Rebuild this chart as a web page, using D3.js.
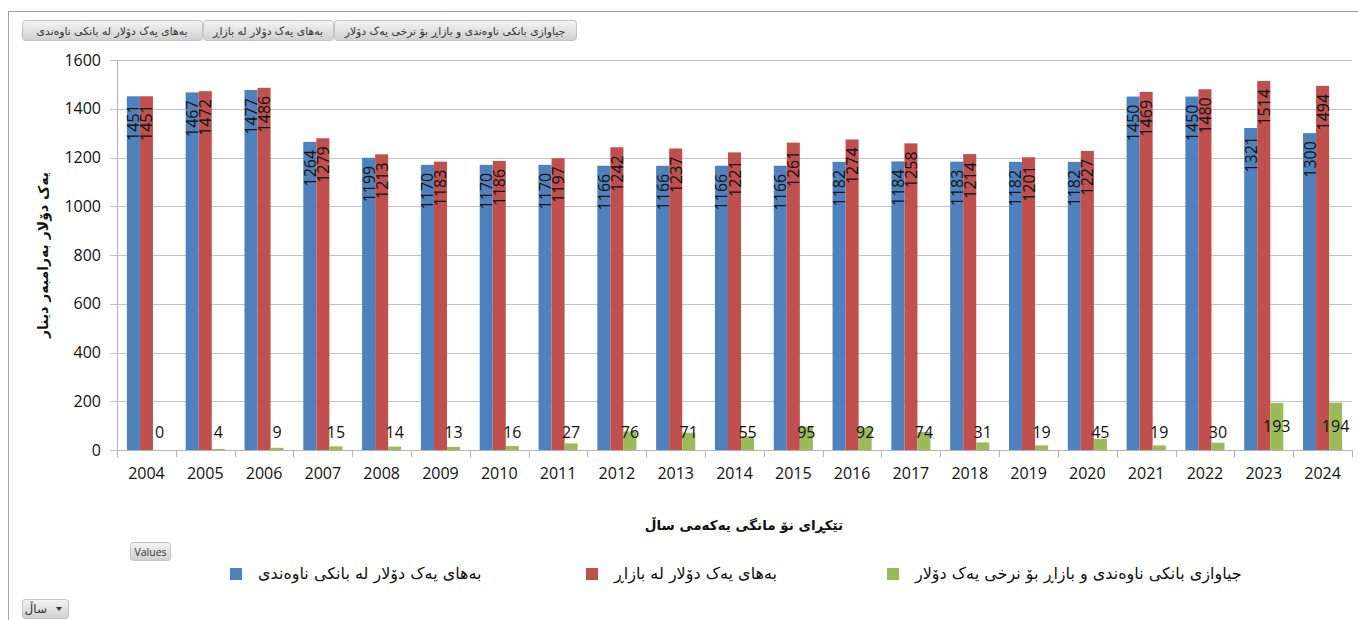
<!DOCTYPE html>
<html>
<head>
<meta charset="utf-8">
<script src="https://cdn.jsdelivr.net/npm/d3@7"></script>
<style>
  body { margin: 0; background: #fff; }
  svg { display: block; }
</style>
</head>
<body>
<svg width="1358" height="620"></svg>
<script>
const years = ["2004","2005","2006","2007","2008","2009","2010","2011","2012","2013","2014",
               "2015","2016","2017","2018","2019","2020","2021","2022","2023","2024"];
const bankRate = [1451,1467,1477,1264,1199,1170,1170,1170,1166,1166,1166,1166,1182,1184,1183,1182,1182,1450,1450,1321,1300];
const marketRate = [1451,1472,1486,1279,1213,1183,1186,1197,1242,1237,1221,1261,1274,1258,1214,1201,1227,1469,1480,1514,1494];
const difference = [0,4,9,15,14,13,16,27,76,71,55,95,92,74,31,19,45,19,30,193,194];
const seriesNames = ["بەهای یەک دۆلار لە بانکی ناوەندی", "بەهای یەک دۆلار لە بازاڕ", "جیاوازی بانکی ناوەندی و بازاڕ بۆ نرخی یەک دۆلار"];
const yTicks = [0,200,400,600,800,1000,1200,1400,1600];
const yTitle = "یەک دۆلار بەرامبەر دینار";
const xTitle = "تێکڕای نۆ مانگی یەکەمی ساڵ";

const colors = ["#4f81bd", "#c0504d", "#9bbb59"];
const arabicFont = "'DejaVu Sans', sans-serif";
const numFont = "'Open Sans', sans-serif";

const svg = d3.select("svg");
const margin = { top: 60, left: 117, right: 6, bottom: 170 };
const width = 1358 - margin.left - margin.right;
const height = 620 - margin.top - margin.bottom;

// frame
svg.append("rect")
  .attr("x", 8.5).attr("y", 11.5).attr("width", 1360).attr("height", 620)
  .attr("fill", "none").attr("stroke", "#a0a0a0");

const defs = svg.append("defs");
const grad = defs.append("linearGradient").attr("id", "btn").attr("x1", 0).attr("y1", 0).attr("x2", 0).attr("y2", 1);
grad.append("stop").attr("offset", "0%").attr("stop-color", "#f4f4f4");
grad.append("stop").attr("offset", "100%").attr("stop-color", "#cfcfcf");

// field buttons
const buttons = [
  { text: seriesNames[0], x: 22, w: 180 },
  { text: seriesNames[1], x: 203, w: 130 },
  { text: seriesNames[2], x: 334, w: 242 }
];
const btn = svg.append("g").selectAll("g").data(buttons).join("g")
  .attr("transform", d => `translate(${d.x},20)`);
btn.append("rect").attr("x", 0.5).attr("y", 0.5).attr("width", d => d.w).attr("height", 20)
  .attr("rx", 3).attr("fill", "url(#btn)").attr("stroke", "#c4c4c4");
btn.append("text").attr("x", d => d.w / 2).attr("y", 11).attr("text-anchor", "middle")
  .attr("dominant-baseline", "central").attr("font-family", arabicFont).attr("font-size", 10.8)
  .attr("fill", "#333").text(d => d.text);

const chart = svg.append("g").attr("transform", `translate(${margin.left},${margin.top})`);

const x0 = d3.scaleBand().domain(years).range([0, width]).paddingInner(0.335).paddingOuter(0.168);
const x1 = d3.scaleBand().domain([0, 1, 2]).range([0, x0.bandwidth()]);
const y = d3.scaleLinear().domain([0, 1600]).range([height, 0]);
const step = x0.step();

// gridlines
chart.append("g").selectAll("line").data(yTicks).join("line")
  .attr("x1", -7).attr("x2", width).attr("y1", d => Math.round(y(d)) + 0.5).attr("y2", d => Math.round(y(d)) + 0.5)
  .attr("stroke", "#c3c3c3");

// y axis
const yAxis = chart.append("g")
  .call(d3.axisLeft(y).tickValues(yTicks).tickFormat(d3.format("d")).tickSize(0).tickPadding(16));
yAxis.select(".domain").remove();
yAxis.selectAll("text").attr("font-family", numFont).attr("font-size", 16).attr("fill", "#111");
chart.append("line").attr("x1", 0.5).attr("x2", 0.5).attr("y1", 0).attr("y2", height).attr("stroke", "#b5b5b5");

// x axis
const xAxis = chart.append("g").attr("transform", `translate(0,${height})`)
  .call(d3.axisBottom(x0).tickSize(0).tickPadding(18));
xAxis.select(".domain").attr("stroke", "#b5b5b5");
xAxis.selectAll("text").attr("font-family", numFont).attr("font-size", 16).attr("fill", "#111");
chart.append("g").selectAll("line").data(d3.range(years.length + 1)).join("line")
  .attr("x1", d => Math.round(d * step) + 0.5).attr("x2", d => Math.round(d * step) + 0.5)
  .attr("y1", height).attr("y2", height + 7).attr("stroke", "#b5b5b5");

// bars
const rows = years.map((yr, i) => ({ year: yr, vals: [bankRate[i], marketRate[i], difference[i]] }));
const groups = chart.append("g").selectAll("g").data(rows).join("g")
  .attr("transform", d => `translate(${x0(d.year)},0)`);

groups.selectAll("rect").data(d => d.vals.map((v, k) => ({ v, k }))).join("rect")
  .attr("x", d => x1(d.k)).attr("width", x1.bandwidth())
  .attr("y", d => y(d.v)).attr("height", d => height - y(d.v))
  .attr("fill", d => colors[d.k]);

// rotated labels for the two rate series
groups.selectAll("text.rot").data(d => d.vals.slice(0, 2).map((v, k) => ({ v, k }))).join("text")
  .attr("class", "rot")
  .attr("transform", d => `translate(${x1(d.k) + x1.bandwidth() / 2},${y(d.v) + 8}) rotate(-90)`)
  .attr("text-anchor", "end").attr("dominant-baseline", "central")
  .attr("font-family", numFont).attr("font-size", 16).attr("fill", "#111")
  .text(d => d.v);

// labels for difference series
groups.append("text")
  .attr("x", x1(2) + x1.bandwidth() / 2)
  .attr("y", d => Math.min((y(d.vals[2]) + height) / 2, height - 18))
  .attr("text-anchor", "middle").attr("dominant-baseline", "central")
  .attr("font-family", numFont).attr("font-size", 16).attr("fill", "#111")
  .text(d => d.vals[2]);

// axis titles
svg.append("text")
  .attr("transform", `translate(43,${margin.top + height / 2}) rotate(-90)`)
  .attr("text-anchor", "middle").attr("dominant-baseline", "central")
  .attr("font-family", arabicFont).attr("font-weight", "bold").attr("font-size", 14)
  .attr("fill", "#111").text(yTitle);

svg.append("text")
  .attr("x", 744).attr("y", 525)
  .attr("text-anchor", "middle").attr("dominant-baseline", "central")
  .attr("font-family", arabicFont).attr("font-weight", "bold").attr("font-size", 13.5)
  .attr("fill", "#111").text(xTitle);

// Values button
const vb = svg.append("g").attr("transform", "translate(130,542)");
vb.append("rect").attr("x", 0.5).attr("y", 0.5).attr("width", 40).attr("height", 18).attr("rx", 3)
  .attr("fill", "url(#btn)").attr("stroke", "#c4c4c4");
vb.append("text").attr("x", 20.5).attr("y", 10).attr("text-anchor", "middle").attr("dominant-baseline", "central")
  .attr("font-family", numFont).attr("font-size", 10.5).attr("fill", "#333").text("Values");

// legend
const legendX = [230, 586, 887];
const legend = svg.append("g").selectAll("g").data(seriesNames).join("g")
  .attr("transform", (d, i) => `translate(${legendX[i]},568)`);
legend.append("rect").attr("width", 12).attr("height", 12).attr("fill", (d, i) => colors[i]);
legend.append("text").attr("x", 28).attr("y", 5)
  .attr("dominant-baseline", "central").attr("direction", "ltr")
  .attr("font-family", arabicFont).attr("font-size", 16).attr("fill", "#111")
  .text(d => d);

// year dropdown
const dd = svg.append("g").attr("transform", "translate(22,599)");
dd.append("rect").attr("x", 0.5).attr("y", 0.5).attr("width", 46).attr("height", 19).attr("rx", 3)
  .attr("fill", "url(#btn)").attr("stroke", "#c4c4c4");
dd.append("text").attr("x", 25).attr("y", 10).attr("text-anchor", "end").attr("dominant-baseline", "central")
  .attr("font-family", arabicFont).attr("font-size", 12).attr("fill", "#333").text("ساڵ");
dd.append("path").attr("d", "M34,8 L40,8 L37,12 Z").attr("fill", "#333");
</script>
</body>
</html>
